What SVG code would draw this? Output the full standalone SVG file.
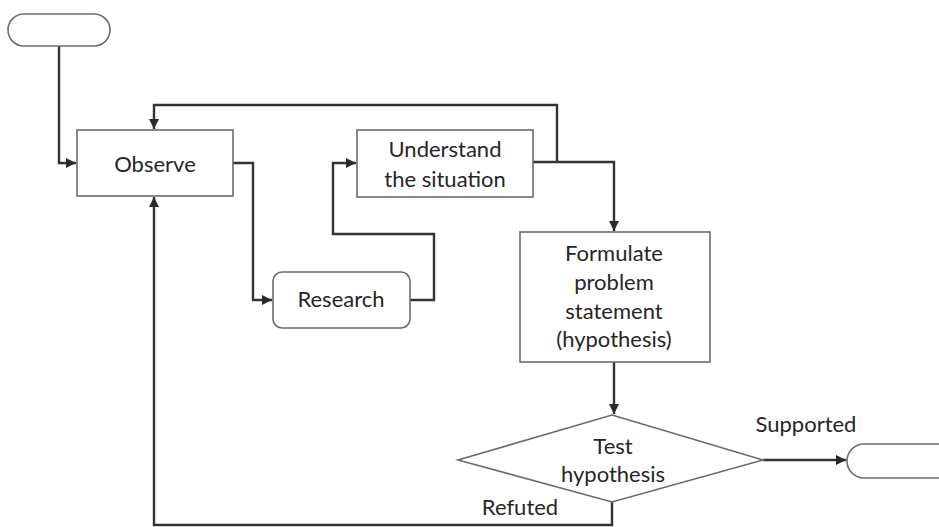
<svg xmlns="http://www.w3.org/2000/svg" width="939" height="527" viewBox="0 0 939 527">
  <style>
    .box { fill: #ffffff; stroke: #6b6b6b; stroke-width: 1.6; }
    .lbl { font-family: Lato, "Liberation Sans", sans-serif; font-size: 22px; fill: #262626; text-anchor: middle; }
    .wire { fill: none; stroke: #333333; stroke-width: 2.4; stroke-linejoin: miter; }
  </style>
  <defs>
    <marker id="arrow" markerWidth="12" markerHeight="12" refX="10" refY="6" orient="auto" markerUnits="userSpaceOnUse">
      <path d="M0,1 L10,6 L0,11 Z" fill="#2a2a2a"/>
    </marker>
  </defs>
  <rect width="939" height="527" fill="#ffffff"/>

  <!-- connectors -->
  <g id="connectors">
    <path class="wire" d="M59,46 V163 H76" marker-end="url(#arrow)"/>
    <path class="wire" d="M233,163 H253 V300 H272" marker-end="url(#arrow)"/>
    <path class="wire" d="M410,300 H434 V234 H333 V163 H356" marker-end="url(#arrow)"/>
    <path class="wire" d="M533,162 H614 V231" marker-end="url(#arrow)"/>
    <path class="wire" d="M557,162 V105 H154 V129" marker-end="url(#arrow)"/>
    <path class="wire" d="M614,362 V414" marker-end="url(#arrow)"/>
    <path class="wire" d="M763,460 H846" marker-end="url(#arrow)"/>
    <path class="wire" d="M612,502 V525 H154 V197" marker-end="url(#arrow)"/>
  </g>

  <!-- start terminal -->
  <g id="start">
    <rect class="box" x="8" y="14" width="102" height="32" rx="16" ry="16"/>
  </g>

  <g id="observe">
    <rect class="box" x="77" y="130" width="156" height="66"/>
    <text class="lbl" x="155" y="172">Observe</text>
  </g>

  <g id="research">
    <rect class="box" x="273" y="272" width="137" height="56" rx="9" ry="9"/>
    <text class="lbl" x="341" y="307">Research</text>
  </g>

  <g id="understand">
    <rect class="box" x="357" y="130" width="176" height="67"/>
    <text class="lbl" x="445" y="157">Understand</text>
    <text class="lbl" x="445" y="187">the situation</text>
  </g>

  <g id="formulate">
    <rect class="box" x="520" y="232" width="190" height="130"/>
    <text class="lbl" x="614" y="261">Formulate</text>
    <text class="lbl" x="614" y="290">problem</text>
    <text class="lbl" x="614" y="319">statement</text>
    <text class="lbl" x="614" y="347">(hypothesis)</text>
  </g>

  <g id="test">
    <polygon class="box" points="612,415 763,460 612,502 458,460"/>
    <text class="lbl" x="613" y="454">Test</text>
    <text class="lbl" x="613" y="482">hypothesis</text>
  </g>

  <g id="end">
    <rect class="box" x="847" y="444" width="120" height="34" rx="17" ry="17"/>
  </g>

  <g id="edge-labels">
    <text class="lbl" x="806" y="432">Supported</text>
    <text class="lbl" x="520" y="515">Refuted</text>
  </g>
</svg>
